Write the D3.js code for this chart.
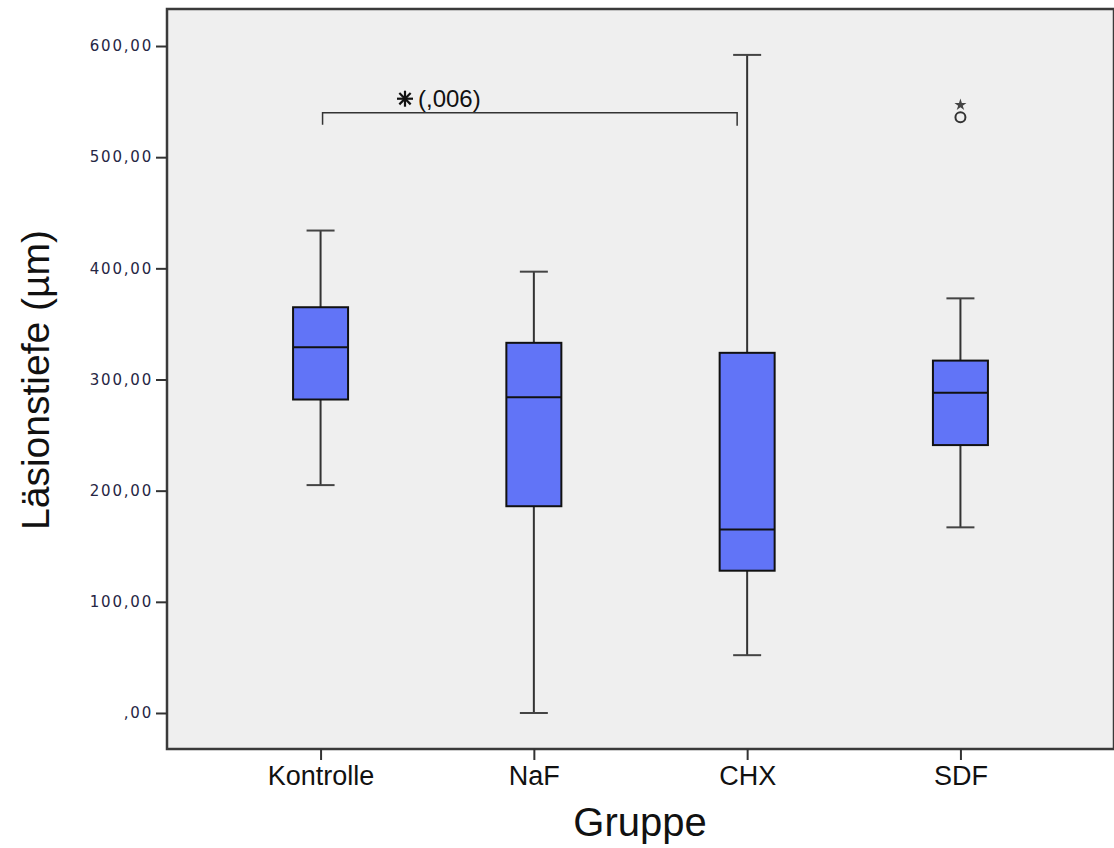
<!DOCTYPE html>
<html lang="de">
<head>
	<meta charset="UTF-8">
	<title>Läsionstiefe nach Gruppe</title>
	<script src="https://d3js.org/d3.v7.min.js"></script>
	<style>
		body { margin: 0; background: #fff; }
		svg { display: block; }
	</style>
</head>
<body>
<script>
	// ---- data ----
	var groups = ['Kontrolle', 'NaF', 'CHX', 'SDF'];
	var whiskerLow  = [205, 0, 52, 167];
	var q1          = [282, 186, 128, 241];
	var median      = [329, 284, 165, 288];
	var q3          = [365, 333, 324, 317];
	var whiskerHigh = [434, 397, 592, 373];
	// outliers: [group, value, type]
	var outliers = [['SDF', 536, 'circle'], ['SDF', 547, 'star']];
	var yTicks = [0, 100, 200, 300, 400, 500, 600];
	var sig = {from: 'Kontrolle', to: 'CHX', value: 540, label: '(,006)'};

	var W = 1114, H = 848;
	var frame = {left: 167, right: 1114, top: 9, bottom: 749};

	var svg = d3.select('body').append('svg')
		.attr('width', W)
		.attr('height', H);

	var x = d3.scalePoint()
		.domain(groups)
		.range([frame.left, frame.right])
		.padding(0.72);
	var y = d3.scaleLinear()
		.domain([-32.4, 633.3])
		.range([frame.bottom, frame.top]);

	// plot background
	svg.append('rect')
		.attr('x', frame.left).attr('y', frame.top)
		.attr('width', frame.right - frame.left)
		.attr('height', frame.bottom - frame.top)
		.attr('fill', '#efefef')
		.attr('stroke', '#3a3a3a')
		.attr('stroke-width', 2.5);

	//---- axes ----
	var fmt = function (v) {
		var s = v.toFixed(2).replace('.', ',');
		return v === 0 ? s.slice(1) : s;
	};
	var yAxis = svg.append('g')
		.attr('transform', 'translate(' + frame.left + ',0)')
		.call(d3.axisLeft(y).tickValues(yTicks).tickFormat(fmt).tickSize(11).tickPadding(3));
	yAxis.select('.domain').remove();
	yAxis.selectAll('line').attr('stroke', '#333').attr('stroke-width', 2);
	yAxis.selectAll('text')
		.attr('font-family', 'DejaVu Sans, sans-serif')
		.attr('font-size', 15)
		.attr('letter-spacing', '1.8px')
		.attr('fill', '#262644');

	var xAxis = svg.append('g')
		.attr('transform', 'translate(0,' + frame.bottom + ')')
		.call(d3.axisBottom(x).tickSize(11).tickPadding(6));
	xAxis.select('.domain').remove();
	xAxis.selectAll('line').attr('stroke', '#333').attr('stroke-width', 2);
	xAxis.selectAll('text')
		.attr('font-family', 'Liberation Sans, Arial, sans-serif')
		.attr('font-size', 27)
		.attr('fill', '#111');

	// axis titles
	svg.append('text')
		.attr('x', 640).attr('y', 836)
		.attr('text-anchor', 'middle')
		.attr('font-family', 'Liberation Sans, Arial, sans-serif')
		.attr('font-size', 40)
		.attr('fill', '#111')
		.text('Gruppe');
	svg.append('text')
		.attr('transform', 'translate(49,380) rotate(-90)')
		.attr('text-anchor', 'middle')
		.attr('font-family', 'Liberation Sans, Arial, sans-serif')
		.attr('font-size', 39)
		.attr('fill', '#111')
		.text('Läsionstiefe (µm)');

	//---- boxes ----
	var boxW = 55, capW = 28;
	var g = svg.append('g');
	groups.forEach(function (grp, i) {
		var cx = x(grp);
		g.append('line')
			.attr('x1', cx).attr('x2', cx)
			.attr('y1', y(whiskerLow[i])).attr('y2', y(whiskerHigh[i]))
			.attr('stroke', '#333').attr('stroke-width', 2);
		[whiskerLow[i], whiskerHigh[i]].forEach(function (v) {
			g.append('line')
				.attr('x1', cx - capW / 2).attr('x2', cx + capW / 2)
				.attr('y1', y(v)).attr('y2', y(v))
				.attr('stroke', '#444').attr('stroke-width', 2);
		});
		g.append('rect')
			.attr('x', cx - boxW / 2).attr('y', y(q3[i]))
			.attr('width', boxW).attr('height', y(q1[i]) - y(q3[i]))
			.attr('fill', '#6174f7')
			.attr('stroke', '#111').attr('stroke-width', 2);
		g.append('line')
			.attr('x1', cx - boxW / 2).attr('x2', cx + boxW / 2)
			.attr('y1', y(median[i])).attr('y2', y(median[i]))
			.attr('stroke', '#111').attr('stroke-width', 2);
	});

	// outliers
	outliers.forEach(function (o) {
		if (o[2] === 'circle') {
			svg.append('circle')
				.attr('cx', x(o[0])).attr('cy', y(o[1]))
				.attr('r', 5)
				.attr('fill', 'none')
				.attr('stroke', '#333').attr('stroke-width', 2);
		} else {
			svg.append('path')
				.attr('transform', 'translate(' + x(o[0]) + ',' + y(o[1]) + ')')
				.attr('d', d3.symbol(d3.symbolStar, 45)())
				.attr('fill', '#444');
		}
	});

	//---- significance bracket ----
	var bx1 = x(sig.from) + 2, bx2 = x(sig.to) - 10, by = y(sig.value);
	svg.append('path')
		.attr('d', 'M' + bx1 + ',' + (by + 12) + 'V' + by + 'H' + bx2 + 'V' + (by + 13))
		.attr('fill', 'none')
		.attr('stroke', '#333')
		.attr('stroke-width', 1.5);
	// eight-spoke asterisk
	var ast = svg.append('g').attr('transform', 'translate(405,' + (by - 14) + ')');
	d3.range(4).forEach(function (k) {
		var a = k * Math.PI / 4, r = 8;
		ast.append('line')
			.attr('x1', -r * Math.cos(a)).attr('y1', -r * Math.sin(a))
			.attr('x2', r * Math.cos(a)).attr('y2', r * Math.sin(a))
			.attr('stroke', '#111').attr('stroke-width', 2.2);
	});
	svg.append('text')
		.attr('x', 418).attr('y', by - 6)
		.attr('font-family', 'Liberation Sans, Arial, sans-serif')
		.attr('font-size', 24)
		.attr('fill', '#111')
		.text(sig.label);
</script>
</body>
</html>
